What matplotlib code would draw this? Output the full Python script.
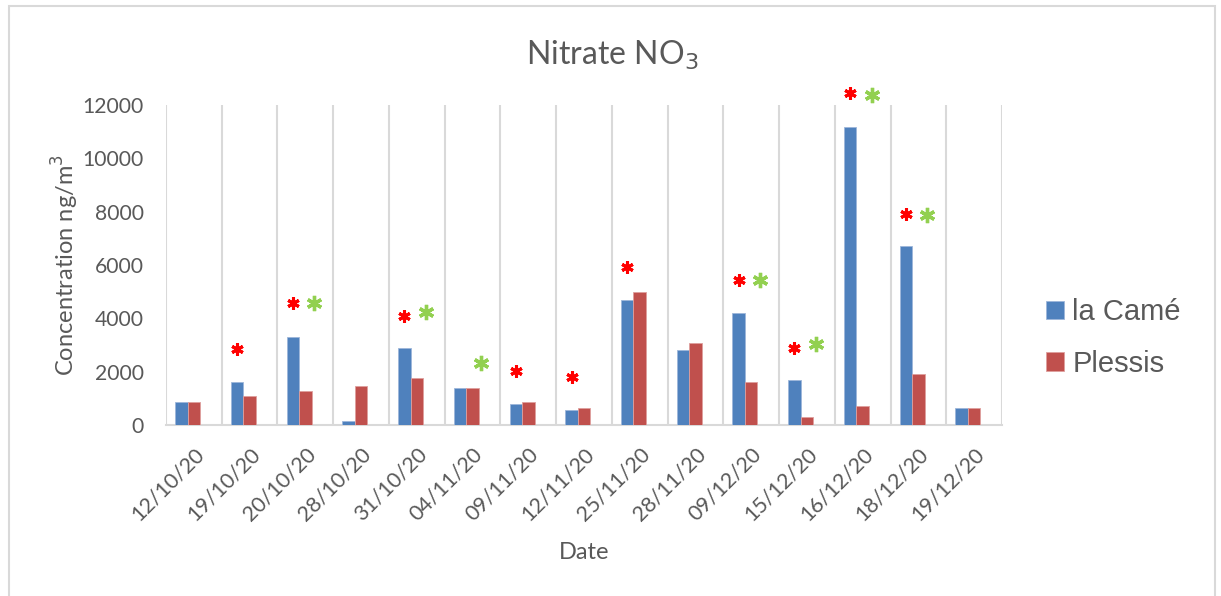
import numpy as np
import matplotlib
matplotlib.use('Agg')
import matplotlib.pyplot as plt
from matplotlib.patches import Rectangle

dates = ['12/10/20', '19/10/20', '20/10/20', '28/10/20', '31/10/20', '04/11/20',
         '09/11/20', '12/11/20', '25/11/20', '28/11/20', '09/12/20', '15/12/20',
         '16/12/20', '18/12/20', '19/12/20']
la_came = [880, 1620, 3300, 150, 2870, 1370, 790, 570, 4680, 2800, 4200, 1670, 11180, 6710, 640]
plessis = [880, 1100, 1270, 1450, 1750, 1370, 850, 640, 4980, 3070, 1620, 300, 710, 1900, 640]

# asterisk annotations: category index and height (ng/m3)
red_idx = [1, 2, 4, 6, 7, 8, 10, 11, 12, 13]
red_y = [2850, 4575, 4100, 2025, 1810, 5940, 5440, 2890, 12440, 7910]
green_idx = [2, 4, 5, 10, 11, 12, 13]
green_y = [4575, 4240, 2340, 5440, 3030, 12380, 7880]

plt.rcParams['font.family'] = ['Lato', 'DejaVu Sans']
grey = '#595959'
blue = '#4F81BD'
red = '#C0504D'

fig = plt.figure(figsize=(12.21, 5.96), dpi=100)
fig.patches.append(Rectangle((9/1221, -0.05), (1215-9)/1221, (596-6)/596 + 0.05,
                             transform=fig.transFigure, fill=False,
                             edgecolor='#D9D9D9', linewidth=1.5))
ax = fig.add_axes([166/1221, 1-425/596, 836/1221, 320/596])

x = np.arange(len(dates))
w = 0.224
ax.bar(x - w, la_came, w, color=blue, edgecolor='#9DB6DA', linewidth=0.6, label='la Camé', zorder=3)
ax.bar(x, plessis, w, color=red, edgecolor='#DE9F9D', linewidth=0.6, label='Plessis', zorder=3)

ax.plot(x[red_idx] - w, red_y, linestyle='none', marker=(6, 2, 0), markersize=8.8,
        markeredgewidth=2.2, color='#FF0000', clip_on=False, zorder=4)
ax.plot(x[green_idx] + 0.16, green_y, linestyle='none', marker=(6, 2, 0), markersize=11,
        markeredgewidth=2.4, color='#92D050', clip_on=False, zorder=4)

ax.set_xlim(-0.5, len(dates) - 0.5)
ax.set_ylim(0, 12000)
ax.set_yticks(np.arange(0, 12001, 2000))
for b in np.arange(-0.5, len(dates) + 0.5, 1):
    ax.axvline(b, color='#D9D9D9', linewidth=1.5, zorder=1)

ax.set_xticks(x)
ax.set_xticklabels(dates, rotation=45, ha='right', rotation_mode='anchor')
ax.tick_params(axis='x', length=0, pad=14, labelsize=15.5, colors=grey)
ax.tick_params(axis='y', length=0, pad=16, labelsize=15.2, colors=grey)
for s in ['top', 'right', 'left']:
    ax.spines[s].set_visible(False)
ax.spines['bottom'].set_color('#D9D9D9')
ax.spines['bottom'].set_linewidth(1.5)

ax.set_ylabel('Concentration ng/m$^3$', fontsize=17, color=grey, labelpad=1)
ax.set_xlabel('Date', fontsize=17, color=grey, labelpad=12)

fig.text(612/1221, 1-55/596, 'Nitrate NO$_3$', fontsize=23, color=grey,
         ha='center', va='center')

leg = fig.legend(loc='center left', bbox_to_anchor=(1020/1221, 1-338/596), frameon=False,
                 handlelength=0.6, handleheight=0.6, handletextpad=0.3,
                 labelspacing=0.8, prop={'family': 'Liberation Sans', 'size': 21})
for t in leg.get_texts():
    t.set_color(grey)

fig.savefig('out.png', dpi=100)
